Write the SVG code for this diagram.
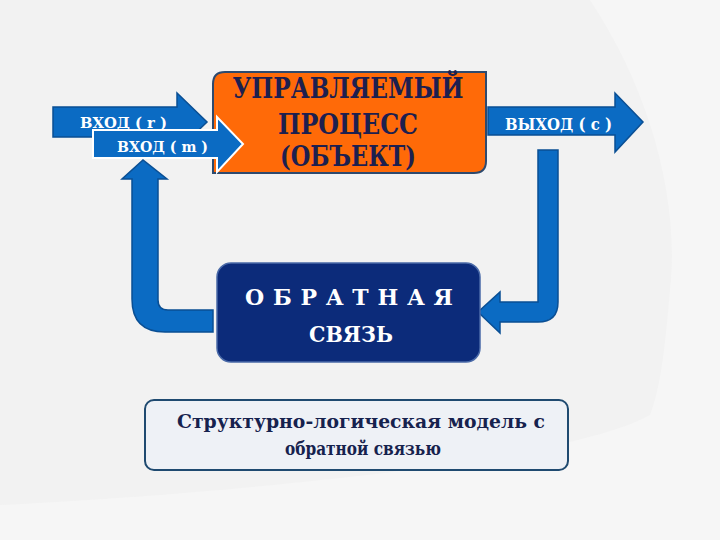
<svg xmlns="http://www.w3.org/2000/svg" width="720" height="540" viewBox="0 0 720 540">
  <style>
    .arrow { fill: #0b6bc3; stroke: #0a4f94; stroke-width: 1.5; stroke-linejoin: miter; }
    text { font-family: 'DejaVu Serif', 'Liberation Serif', serif; font-weight: bold; }
    .arrtxt { fill: #ffffff; }
    .proc { fill: #1d1f4f; font-size: 28px; text-anchor: middle; }
    .fb { fill: #ffffff; font-size: 22px; text-anchor: middle; }
    .cap { fill: #16224e; font-size: 19px; text-anchor: middle; }
  </style>
  <rect x="0" y="0" width="720" height="540" fill="#f2f2f2"/>
  <path d="M590,0 C650,90 680,200 670,290 C665,350 660,390 650,415 C560,465 200,495 0,505 L0,540 L720,540 L720,0 Z" fill="#f6f6f6"/>

  <g id="connectors">
    <path id="fb-right" class="arrow" d="M538,150 H558 V302 Q558,322 538,322 H500 V333 L478,312 L500,292 V302 H538 Z"/>
    <path id="fb-left" class="arrow" d="M132,179 H122 L143,160 L167,179 H158 V300 Q158,310 168,310 H213 V332 H165 Q132,332 132,299 Z"/>
  </g>

  <g id="process">
    <path d="M213,84 Q213,72 225,72 H486 V161 Q486,173 474,173 H213 Z" fill="#ff6a08" stroke="#2e4a6e" stroke-width="2"/>
    <text class="proc" x="348" y="98" textLength="231" lengthAdjust="spacingAndGlyphs">УПРАВЛЯЕМЫЙ</text>
    <text class="proc" x="348" y="134" textLength="140" lengthAdjust="spacingAndGlyphs">ПРОЦЕСС</text>
    <text class="proc" x="348" y="166" textLength="136" lengthAdjust="spacingAndGlyphs">(ОБЪЕКТ)</text>
  </g>

  <g id="input-r">
    <polygon class="arrow" points="53,107 177,107 177,93 207,122 177,151 177,137 53,137"/>
    <text class="arrtxt" x="80" y="128" font-size="15" textLength="87" lengthAdjust="spacingAndGlyphs">ВХОД ( r )</text>
  </g>

  <g id="input-m">
    <polygon points="93,130 217,130 217,117 243,144 217,172 217,158 93,158" fill="#0b6bc3" stroke="#ffffff" stroke-width="2"/>
    <text class="arrtxt" x="117" y="152" font-size="15" textLength="91" lengthAdjust="spacingAndGlyphs">ВХОД ( m )</text>
  </g>

  <g id="output">
    <polygon class="arrow" points="488,107 615,107 615,93 643,122 615,152 615,135 488,135"/>
    <text class="arrtxt" x="505" y="130" font-size="16" textLength="107" lengthAdjust="spacingAndGlyphs">ВЫХОД  ( с )</text>
  </g>

  <g id="feedback">
    <rect x="217" y="263" width="263" height="99" rx="14" fill="#0c2b7a" stroke="#4a6aa8" stroke-width="1.5"/>
    <text class="fb" x="349" y="305" textLength="208">О Б Р А Т Н А Я</text>
    <text class="fb" x="351" y="342" textLength="84" lengthAdjust="spacingAndGlyphs">СВЯЗЬ</text>
  </g>

  <g id="caption">
    <rect x="145" y="400" width="423" height="70" rx="9" fill="#eef1f6" stroke="#1f4a70" stroke-width="2"/>
    <text class="cap" x="361" y="428" textLength="368" lengthAdjust="spacingAndGlyphs">Структурно-логическая модель с</text>
    <text class="cap" x="363" y="455" textLength="156" lengthAdjust="spacingAndGlyphs">обратной связью</text>
  </g>
</svg>
